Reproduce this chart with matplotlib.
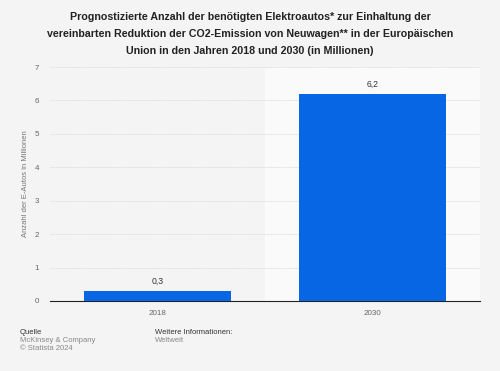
import matplotlib.pyplot as plt

plt.rcParams['font.family'] = ['Liberation Sans', 'DejaVu Sans']

years = ['2018', '2030']
values = [0.3, 6.2]
value_labels = ['0,3', '6,2']

title = ('Prognostizierte Anzahl der benötigten Elektroautos* zur Einhaltung der\n'
         'vereinbarten Reduktion der CO2-Emission von Neuwagen** in der Europäischen\n'
         'Union in den Jahren 2018 und 2030 (in Millionen)')

bg = '#f4f4f4'
fig = plt.figure(figsize=(5, 3.71), dpi=100, facecolor=bg)
ax = fig.add_axes([0.1, 0.1887, 0.86, 0.6307])
ax.set_facecolor(bg)

x = range(len(years))
ax.axvspan(0.5, 1.5, color='#fafafa', zorder=0)
ax.bar(x, values, width=0.68, color='#0766e3', zorder=3)
for i, (v, lab) in enumerate(zip(values, value_labels)):
    ax.text(i, v + 0.15, lab, ha='center', va='bottom', fontsize=6.2, color='#333333')

ax.set_xlim(-0.5, 1.5)
ax.set_ylim(0, 7)
ax.set_yticks(range(8))
ax.set_xticks(list(x))
ax.set_xticklabels(years)
ax.grid(axis='y', color='#dddddd', linestyle=(0, (2, 1)), linewidth=0.6, zorder=1)
for s in ['top', 'right', 'left']:
    ax.spines[s].set_visible(False)
ax.spines['bottom'].set_color('#222222')
ax.spines['bottom'].set_linewidth(0.8)
ax.tick_params(axis='both', length=0, labelsize=5.8, labelcolor='#666666')
ax.tick_params(axis='y', pad=8)
ax.tick_params(axis='x', pad=6.5)
ax.set_ylabel('Anzahl der E-Autos in Millionen', fontsize=5.5, color='#777777', labelpad=4)

fig.text(0.5, 0.968, title, ha='center', va='top', fontsize=7.7, fontweight='bold',
         color='#222222', linespacing=1.9)

fig.text(0.04, 0.104, 'Quelle', fontsize=5.5, color='#333333', va='center')
fig.text(0.04, 0.082, 'McKinsey & Company', fontsize=5.5, color='#888888', va='center')
fig.text(0.04, 0.060, '© Statista 2024', fontsize=5.5, color='#888888', va='center')
fig.text(0.31, 0.104, 'Weitere Informationen:', fontsize=5.5, color='#333333', va='center')
fig.text(0.31, 0.082, 'Weltweit', fontsize=5.5, color='#888888', va='center')

fig.savefig('out.png', dpi=100, facecolor=bg)
